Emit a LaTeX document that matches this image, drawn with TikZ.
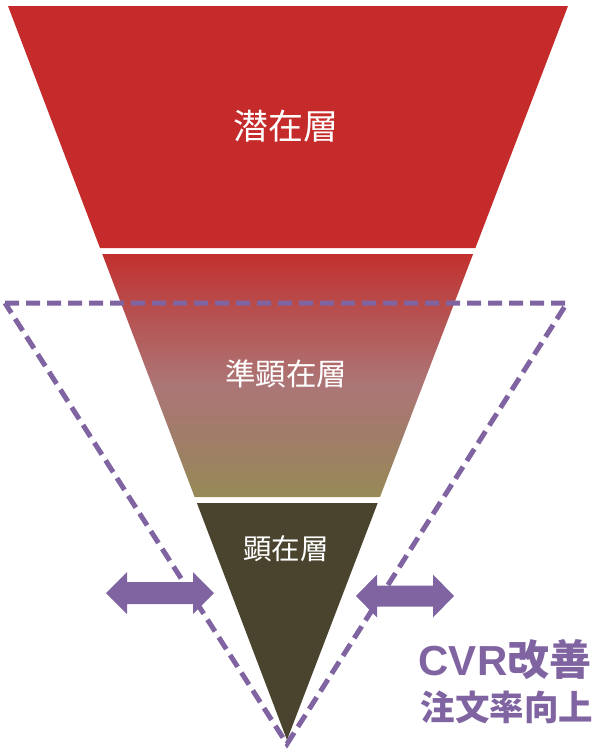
\documentclass[tikz,border=0pt]{standalone}
\usepackage{fontspec}
\newfontfamily\jpfont{Noto Sans CJK JP}
\newfontfamily\latinsans{Liberation Sans}
\usetikzlibrary{calc}
\definecolor{topred}{HTML}{C42B2A}
\definecolor{midtop}{HTML}{C2302F}
\definecolor{midup}{HTML}{B84B4A}
\definecolor{midmid}{HTML}{AC7676}
\definecolor{midlow}{HTML}{A07D68}
\definecolor{midbot}{HTML}{968A57}
\definecolor{darkol}{HTML}{4A442F}
\definecolor{purp}{HTML}{8064A2}
\pgfdeclareverticalshading{bandsh}{100bp}{color(0bp)=(midbot); color(25bp)=(midbot); color(37bp)=(midlow); color(48bp)=(midmid); color(65bp)=(midup); color(75bp)=(midtop); color(100bp)=(midtop)}
\tikzset{
  bandlabel/.style={text=white,font=\jpfont,inner sep=0pt},
  purplabel/.style={text=purp,font=\jpfont\bfseries,inner sep=0pt},
  dashtri/.style={draw=purp,line width=5pt,dash pattern=on 14pt off 7pt,line join=miter},
  dblarrow/.style={fill=purp,draw=none}
}
\begin{document}
\begin{tikzpicture}[x=1pt,y=-1pt]
\useasboundingbox (0,0) rectangle (598,750);
% funnel bands
\fill[topred] (8,6) -- (568,6) -- (475.4,248) -- (100,248) -- cycle;
\shade[shading=bandsh]
  (102.3,254) -- (473.1,254) -- (380,497) -- (194.6,497) -- cycle;
\fill[darkol] (196.9,503) -- (377.7,503) -- (287,740) -- cycle;
% labels
\node[bandlabel,font=\jpfont\fontsize{35}{35}\selectfont] (l1) at (286,126) {潜在層};
\node[bandlabel,font=\jpfont\fontsize{30.5}{30.5}\selectfont] (l2) at (286,374) {準顕在層};
\node[bandlabel,font=\jpfont\fontsize{28.5}{28.5}\selectfont] (l3) at (286,549) {顕在層};
% double arrows
\fill[dblarrow] (106,593) -- (127,572) -- (127,582) -- (193,582) -- (193,572) -- (214,593)
  -- (193,614) -- (193,604) -- (127,604) -- (127,614) -- cycle;
\fill[dblarrow] (356,596) -- (377,574.5) -- (377,585.5) -- (433,585.5) -- (433,574.5) -- (454,596)
  -- (433,617.5) -- (433,606.5) -- (377,606.5) -- (377,617.5) -- cycle;
% dashed triangle
\coordinate (dl) at (5,303);
\coordinate (dr) at (567,303);
\coordinate (da) at (287,744);
\draw[dashtri] (dl) -- (dr) -- (da) -- cycle;
% purple text
\node[purplabel,font=\jpfont\bfseries\fontsize{42}{42}\selectfont] (cvr) at (505,660) {{\latinsans\bfseries CVR}改善};
\node[purplabel,font=\jpfont\bfseries\fontsize{34.5}{34.5}\selectfont] (ord) at (507,707) {注文率向上};
\end{tikzpicture}
\end{document}
